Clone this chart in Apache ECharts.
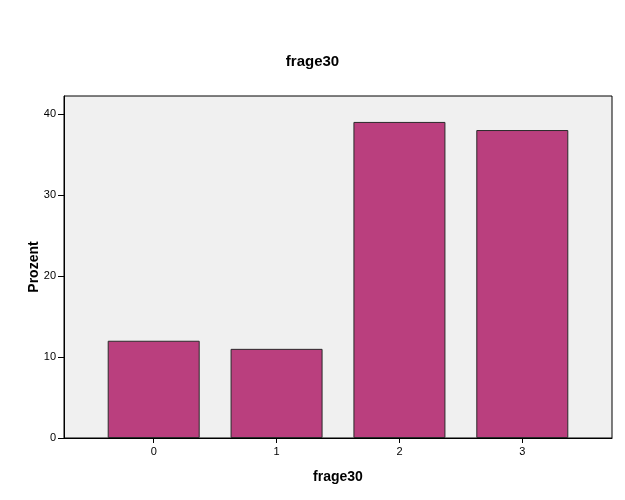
<!DOCTYPE html>
<html><head><meta charset="utf-8">
<script src="https://cdn.jsdelivr.net/npm/echarts@6/dist/echarts.min.js"></script>
<style>html,body{margin:0;padding:0;background:#fff}#c{width:625px;height:500px}</style>
</head><body><div id="c"></div>
<script>
const categories = [0, 1, 2, 3];
const categoryLabels = ['0', '1', '2', '3'];
const percentValues = [12, 11, 39, 38];
const yTicks = [0, 10, 20, 30, 40];

const chart = echarts.init(document.getElementById('c'), null, {renderer: 'canvas'});
const font = '"Liberation Sans", Arial, sans-serif';
chart.setOption({
  animation: false,
  backgroundColor: '#ffffff',
  title: {
    text: 'frage30', left: 'center', top: 49,
    textStyle: {fontFamily: font, fontSize: 15, fontWeight: 'bold', color: '#000'}
  },
  grid: {
    left: 64, right: 13, top: 96, bottom: 62,
    show: true, backgroundColor: '#F0F0F0', borderColor: '#000', borderWidth: 1
  },
  xAxis: {
    type: 'value', min: -0.73, max: 3.73,
    name: 'frage30', nameLocation: 'middle', nameGap: 32,
    nameTextStyle: {fontFamily: font, fontSize: 14, fontWeight: 'bold', color: '#000'},
    axisLine: {show: true, onZero: false, lineStyle: {color: '#000', width: 1}},
    axisTick: {show: true, length: 5, customValues: categories, lineStyle: {color: '#000'}},
    axisLabel: {
      customValues: categories, margin: 8,
      fontFamily: font, fontSize: 11, color: '#000',
      formatter: v => categoryLabels[categories.indexOf(Math.round(v))]
    },
    splitLine: {show: false}
  },
  yAxis: {
    type: 'value', min: 0, max: 42.2,
    name: 'Prozent', nameLocation: 'middle', nameGap: 23, nameMoveOverlap: false,
    nameTextStyle: {fontFamily: font, fontSize: 14, fontWeight: 'bold', color: '#000'},
    axisLine: {show: true, onZero: false, lineStyle: {color: '#000', width: 1}},
    axisTick: {show: true, length: 6, customValues: yTicks, lineStyle: {color: '#000'}},
    axisLabel: {customValues: yTicks, margin: 8, fontFamily: font, fontSize: 11, color: '#000'},
    splitLine: {show: false}
  },
  series: [{
    type: 'bar',
    data: categories.map((c, i) => [c, percentValues[i]]),
    barWidth: 92,
    itemStyle: {color: '#BA3F7E', borderColor: '#2a2a2a', borderWidth: 1}
  }]
});
</script></body></html>
